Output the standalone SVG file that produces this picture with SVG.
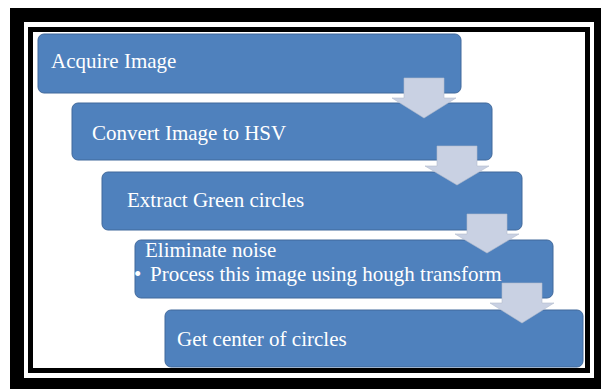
<svg xmlns="http://www.w3.org/2000/svg" width="601" height="389" viewBox="0 0 601 389">
<style>
.box{fill:#4f81bd;stroke:#41699b;stroke-width:1}
.lbl{fill:#ffffff;font-family:"Liberation Serif","Times New Roman",serif;font-size:21px}
.arr{fill:#c9d1e3;stroke:#b4bccc;stroke-width:0.6}
</style>
<g id="frame">
<rect x="0" y="0" width="601" height="389" fill="#ffffff"/>
<rect x="10" y="8" width="591" height="381" fill="#000000"/>
<rect x="24" y="22" width="570" height="356" fill="#ffffff"/>
<rect x="28" y="27" width="562" height="346" fill="#000000"/>
<rect x="33" y="32" width="552" height="336" fill="#ffffff"/>
</g>
<g id="node1">
<rect class="box" x="38" y="34" width="423" height="59" rx="6"/>
<text class="lbl" x="51" y="68">Acquire Image</text>
</g>
<g id="node2">
<rect class="box" x="72" y="103" width="420" height="57" rx="6"/>
<text class="lbl" x="92" y="140">Convert Image to HSV</text>
</g>
<g id="node3">
<rect class="box" x="102" y="172" width="420" height="58" rx="6"/>
<text class="lbl" x="127" y="207">Extract Green circles</text>
</g>
<g id="node4">
<rect class="box" x="135" y="240" width="418" height="58" rx="6"/>
<text class="lbl" x="145" y="257">Eliminate noise</text>
<text class="lbl" y="281"><tspan x="134">•</tspan><tspan x="150">Process this image using hough transform</tspan></text>
</g>
<g id="node5">
<rect class="box" x="165" y="310" width="418" height="57" rx="6"/>
<text class="lbl" x="177" y="346">Get center of circles</text>
</g>
<g id="connectors">
<path class="arr" d="M404,78 H444 V98 H456 L424,118 L392,98 H404 Z"/>
<path class="arr" d="M437,146 H477 V166 H489 L457,185 L425,166 H437 Z"/>
<path class="arr" d="M467,214 H507 V234 H519 L487,253 L455,234 H467 Z"/>
<path class="arr" d="M502,283 H542 V303 H554 L522,323 L490,303 H502 Z"/>
</g>
</svg>
